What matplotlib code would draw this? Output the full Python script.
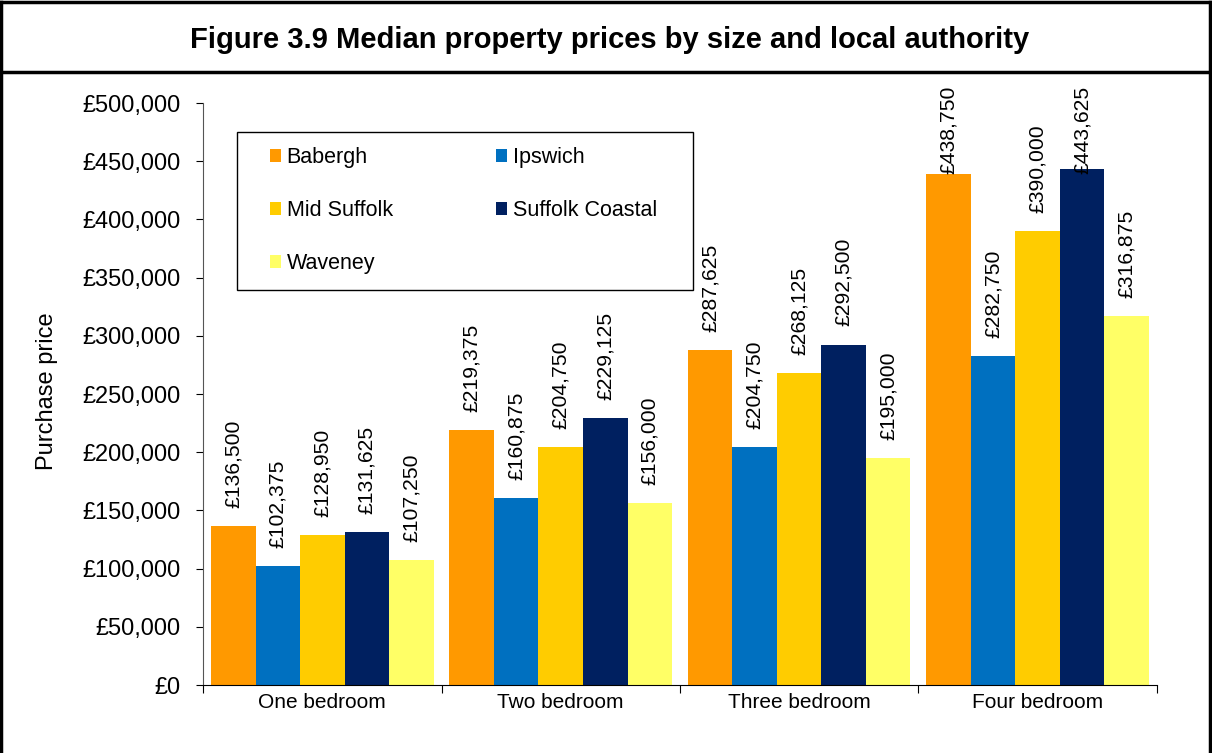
import numpy as np
import matplotlib.pyplot as plt
from matplotlib.lines import Line2D
from matplotlib.patches import Patch, Rectangle
from matplotlib.ticker import FuncFormatter, MultipleLocator

plt.rcParams['font.family'] = ['Liberation Sans', 'DejaVu Sans']

# data
categories = ["One bedroom", "Two bedroom", "Three bedroom", "Four bedroom"]
areas = ["Babergh", "Ipswich", "Mid Suffolk", "Suffolk Coastal", "Waveney"]
babergh = [136500, 219375, 287625, 438750]
ipswich = [102375, 160875, 204750, 282750]
mid_suffolk = [128950, 204750, 268125, 390000]
suffolk_coastal = [131625, 229125, 292500, 443625]
waveney = [107250, 156000, 195000, 316875]
colors = ["#FF9900", "#0070C0", "#FFCC00", "#002060", "#FFFF66"]

series = [babergh, ipswich, mid_suffolk, suffolk_coastal, waveney]

fig = plt.figure(figsize=(12.12, 7.53), dpi=100)
ax = fig.add_axes([0.1675, 0.0903, 0.7871, 0.7729])

x = np.arange(len(categories))
w = 0.1866
label_cap = 439000  # labels get pushed down near the top of the plot
for j, (vals, col) in enumerate(zip(series, colors)):
    pos = x + (j - 2) * w
    ax.bar(pos, vals, width=w, color=col, edgecolor='none')
    for px, v in zip(pos, vals):
        ax.text(px, min(v + 15500, label_cap), f"£{v:,}", rotation=90,
                ha='center', va='bottom', fontsize=15.2)

ax.set_xlim(-0.5, len(categories) - 0.5)
ax.set_ylim(0, 500000)
ax.yaxis.set_major_locator(MultipleLocator(50000))
ax.yaxis.set_major_formatter(FuncFormatter(lambda v, p: f"£{v:,.0f}"))
ax.tick_params(axis='y', labelsize=17, length=5, direction='out', pad=11)

# category boundary ticks, labels in the middle
ax.set_xticks(np.arange(len(categories) + 1) - 0.5)
ax.set_xticklabels([])
ax.set_xticks(x, minor=True)
ax.set_xticklabels(categories, minor=True, fontsize=15)
ax.tick_params(axis='x', which='major', length=6, direction='out')
ax.tick_params(axis='x', which='minor', length=0, pad=6)

for s in ['top', 'right']:
    ax.spines[s].set_visible(False)
ax.spines['left'].set_color('#555555')
ax.spines['bottom'].set_color('black')

ax.set_ylabel("Purchase price", fontsize=17)
ax.yaxis.set_label_coords(-0.152, 0.505)

# legend (column-wise fill: Babergh, Mid Suffolk, Waveney | Ipswich, Suffolk Coastal)
order = [0, 2, 4, 1, 3]
handles = [Patch(facecolor=colors[i], edgecolor='none', label=areas[i]) for i in order]
leg = ax.legend(handles=handles, ncol=2, loc='upper left',
                bbox_to_anchor=(0.0702, 0.9244), borderaxespad=0, borderpad=0,
                fontsize=15.5, frameon=False,
                handlelength=0.52, handleheight=0.52, handletextpad=0.25,
                labelspacing=1.49, columnspacing=4.8)
ax.add_patch(Rectangle((0.0356, 0.679), 0.478, 0.271, transform=ax.transAxes,
                       facecolor='none', edgecolor='black', lw=1.0, zorder=5))

fig.text(0.503, 0.947, "Figure 3.9 Median property prices by size and local authority",
         ha='center', va='center', fontsize=21, fontweight='bold')

# outer frame and title separator
lw = 2.5
fig.add_artist(Line2D([0.001, 0.999], [0.998, 0.998], color='black', lw=lw))
fig.add_artist(Line2D([0.001, 0.001], [0.0, 0.998], color='black', lw=lw))
fig.add_artist(Line2D([0.998, 0.998], [0.0, 0.998], color='black', lw=lw))
fig.add_artist(Line2D([0.001, 0.998], [0.904, 0.904], color='black', lw=lw))

fig.savefig("out.png", dpi=100)
